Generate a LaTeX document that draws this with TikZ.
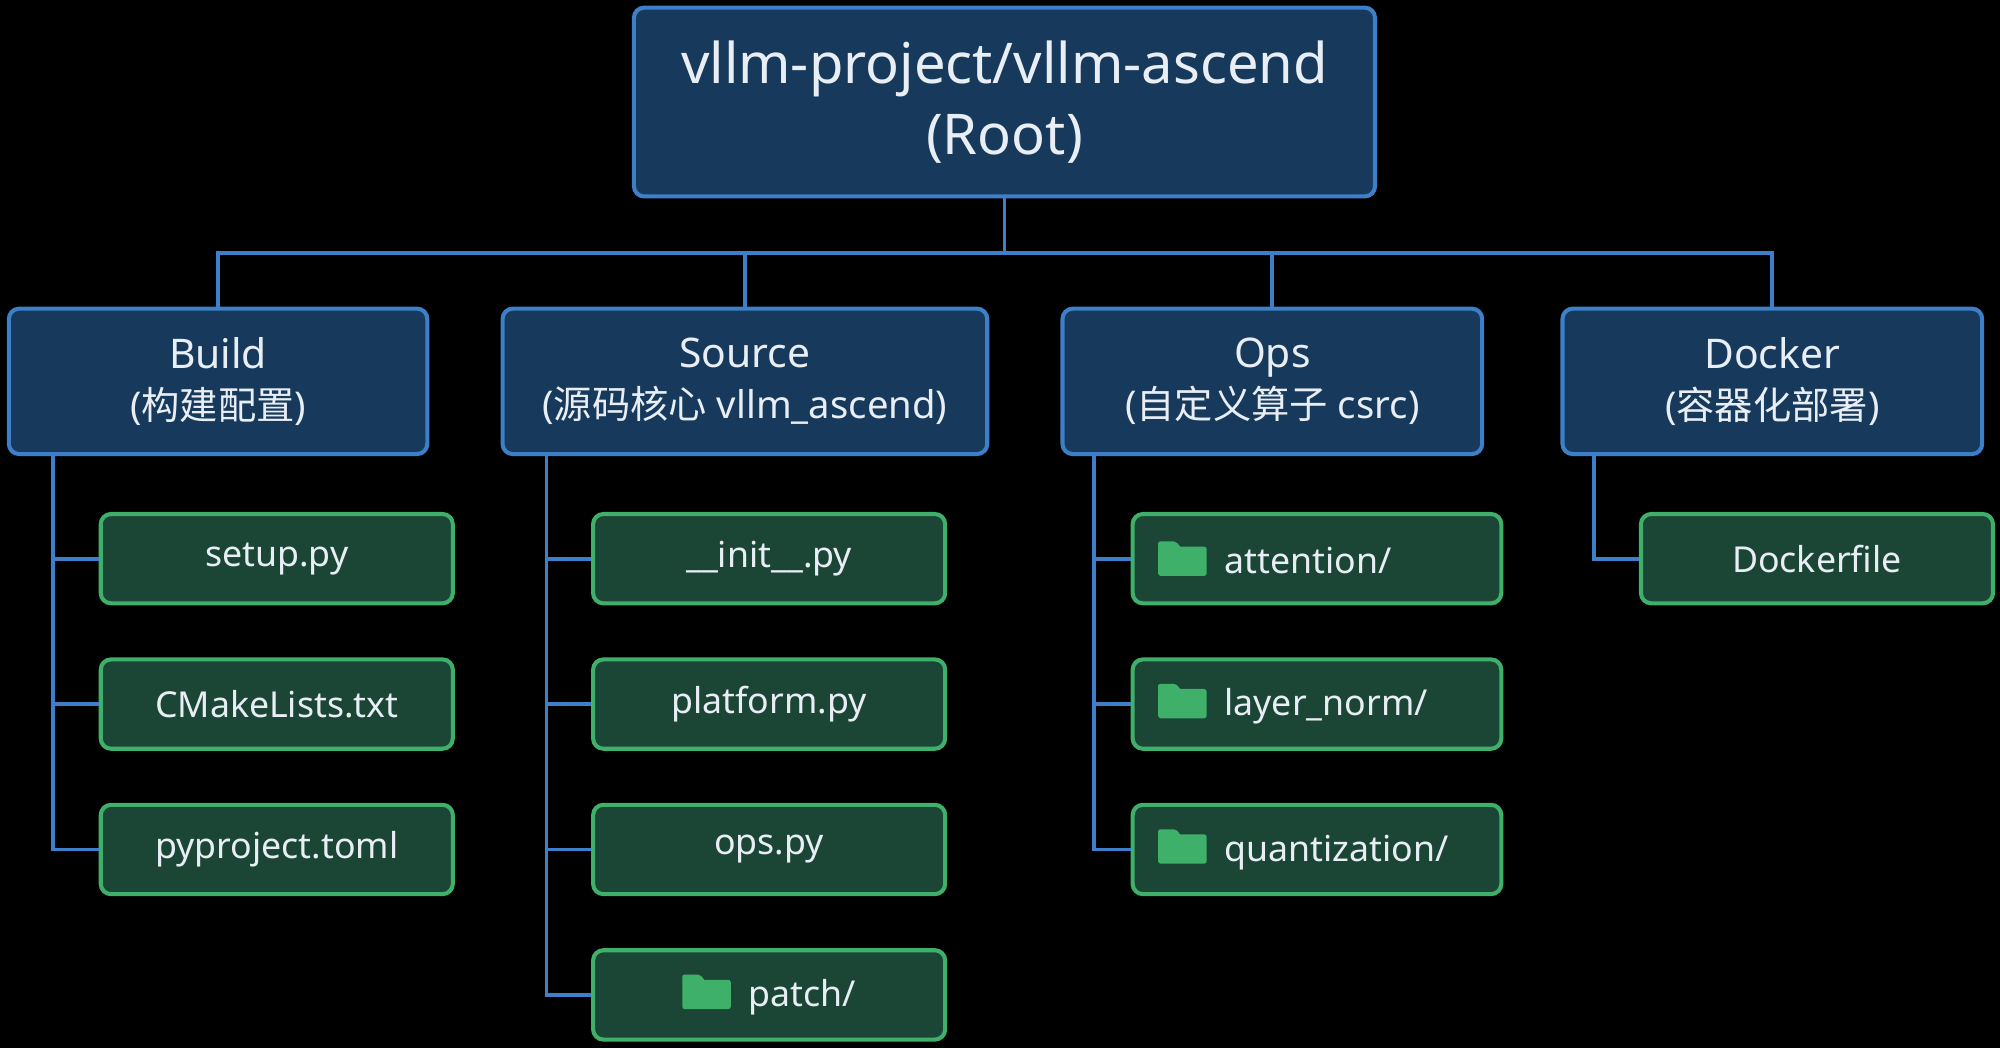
\documentclass[tikz,border=0pt]{standalone}
\usepackage{fontspec}
\setmainfont{Noto Sans}
\newfontfamily\cjk{Noto Sans CJK SC}
\definecolor{bg}{HTML}{000000}
\definecolor{navf}{HTML}{173A5C}
\definecolor{navb}{HTML}{3D7FC8}
\definecolor{leaff}{HTML}{1B4636}
\definecolor{leafb}{HTML}{3FB06A}
\definecolor{txt}{HTML}{E8EEF4}
\newcommand\fold{\tikz[baseline=0pt]{\fill[leafb,rounded corners=1pt] (0,-1pt) rectangle (19pt,10.5pt);\fill[leafb,rounded corners=0.8pt] (0,9pt) -- (0,12.5pt) -- (7pt,12.5pt) -- (9pt,10pt) -- cycle;}}
\begin{document}
\begin{tikzpicture}[x=0.5pt,y=-0.5pt,
  lvl/.style={draw=navb,fill=navf,line width=1.6pt,rounded corners=4pt,text=txt,inner sep=0pt,align=center,minimum height=57pt,font=\fontsize{16}{20}\selectfont},
  leaf/.style={draw=leafb,fill=leaff,line width=1.6pt,rounded corners=4pt,text=txt,inner sep=0pt,minimum height=35pt,minimum width=138pt,font=\fontsize{14}{17}\selectfont},
  fleaf/.style={leaf,minimum width=144.5pt,text width=124.5pt,align=left},
  con/.style={draw=navb,line width=1.5pt}]
\fill[bg] (0,0) rectangle (1568,822);
\useasboundingbox (0,0) rectangle (1568,822);
\node[lvl,minimum width=290.5pt,minimum height=74pt,font=\fontsize{22}{28}\selectfont] (root) at (787.5,80) {vllm-project/vllm-ascend\\(Root)};
\node[lvl,minimum width=164pt] (build) at (171,299) {Build\\{\fontsize{15}{19}\selectfont(\cjk 构建配置\normalfont)}};
\node[lvl,minimum width=190pt] (source) at (584,299) {Source\\{\fontsize{15}{19}\selectfont(\cjk 源码核心\normalfont{} vllm\_ascend)}};
\node[lvl,minimum width=164.5pt] (ops) at (997.5,299) {Ops\\{\fontsize{15}{19}\selectfont(\cjk 自定义算子\normalfont{} csrc)}};
\node[lvl,minimum width=164.5pt] (docker) at (1389.5,299) {Docker\\{\fontsize{15}{19}\selectfont(\cjk 容器化部署\normalfont)}};
\foreach \n in {build,source,ops,docker}{\draw[con] (root.south) -- ++(0,43) -| (\n.north);}
% build
\node[leaf] (b1) at (217,438) {setup.py};
\node[leaf] (b2) at (217,552) {CMakeLists.txt};
\node[leaf] (b3) at (217,666) {pyproject.toml};
\foreach \n in {b1,b2,b3}{\draw[con] ([xshift=18pt]build.south west) |- (\n.west);}
% source
\node[leaf] (s1) at (603,438) {\_\_init\_\_.py};
\node[leaf] (s2) at (603,552) {platform.py};
\node[leaf] (s3) at (603,666) {ops.py};
\node[leaf] (s4) at (603,780) {\fold\hspace{7pt}patch/};
\foreach \n in {s1,s2,s3,s4}{\draw[con] ([xshift=18pt]source.south west) |- (\n.west);}
% ops
\node[fleaf] (o1) at (1032.5,438) {\fold\hspace{7pt}attention/};
\node[fleaf] (o2) at (1032.5,552) {\fold\hspace{7pt}layer\_norm/};
\node[fleaf] (o3) at (1032.5,666) {\fold\hspace{7pt}quantization/};
\foreach \n in {o1,o2,o3}{\draw[con] ([xshift=13pt]ops.south west) |- (\n.west);}
% docker
\node[leaf] (d1) at (1424.5,438) {Dockerfile};
\draw[con] ([xshift=13pt]docker.south west) |- (d1.west);
\end{tikzpicture}
\end{document}
